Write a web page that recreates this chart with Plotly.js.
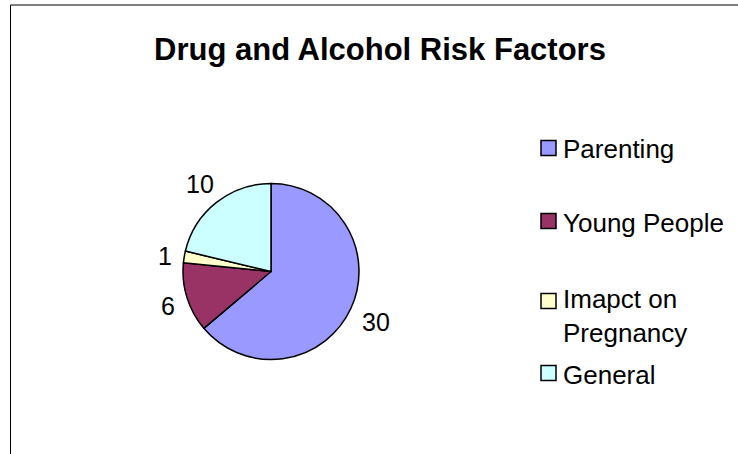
<!DOCTYPE html>
<html>
<head>
<meta charset="utf-8">
<script src="https://cdn.plot.ly/plotly-3.0.1.min.js"></script>
<style>html,body{margin:0;padding:0;background:#fff;}#chart{width:738px;height:454px;}</style>
</head>
<body>
<div id="chart"></div>
<script>
// ---- data ----
const categories = ['Parenting', 'Young People', 'Imapct on Pregnancy', 'General'];
const values = [30, 6, 1, 10];
const colors = ['#9999FF', '#993366', '#FFFFCC', '#CCFFFF'];
const chartTitle = 'Drug and Alcohol Risk Factors';

// ---- layout helpers (pixels -> paper) ----
const W = 738, H = 454;
const px = x => x / W;
const py = y => 1 - y / H;
const font = 'Liberation Sans, Arial, sans-serif';

// pie geometry (style)
const pieL = 183, pieR = 359, pieT = 183, pieB = 360;
const cx = (pieL + pieR) / 2, cy = (pieT + pieB) / 2, rad = (pieR - pieL) / 2;
const labelSize = 25, labelGap = 11;
const legendSize = 26;

function wrap(label) {
  if (label.length <= 14) return [label];
  const i = label.lastIndexOf(' ');
  return [label.slice(0, i), label.slice(i + 1)];
}

const shapes = [];
const annotations = [];

// value labels placed outside each slice, derived from the values
const total = values.reduce((a, b) => a + b, 0);
let acc = 0;
values.forEach(v => {
  const mid = (acc + v / 2) / total * 2 * Math.PI;
  acc += v;
  const dx = Math.sin(mid), dy = -Math.cos(mid);
  const t = String(v);
  const hw = t.length * 0.556 * labelSize / 2, hh = 0.72 * labelSize / 2;
  const d = rad + labelGap + hw * Math.abs(dx) + hh * Math.abs(dy);
  annotations.push({xref: 'paper', yref: 'paper', x: px(cx + d * dx), y: py(cy + d * dy + 2),
    xanchor: 'center', yanchor: 'middle', showarrow: false, text: t,
    font: {family: font, size: labelSize, color: '#000'}});
});

// legend (drawn manually to match original spacing)
const legendSquareY = [148, 221, 301, 373];
categories.forEach((c, i) => {
  const sy = legendSquareY[i];
  shapes.push({type: 'rect', xref: 'paper', yref: 'paper',
    x0: px(541), x1: px(556), y0: py(sy - 7.5), y1: py(sy + 7.5),
    fillcolor: colors[i], line: {color: '#000', width: 1.5}});
  const lines = wrap(c);
  const pitch = legendSize * 1.3;
  const extra = lines.length > 1 ? (lines.length - 1) * pitch / 2 - 3 : 0;
  annotations.push({xref: 'paper', yref: 'paper', x: px(561), y: py(sy + 1.5 + extra),
    xanchor: 'left', yanchor: 'middle', align: 'left', showarrow: false,
    text: lines.join('<br>'), font: {family: font, size: legendSize, color: '#000'}});
});

// frame
shapes.push({type: 'line', xref: 'paper', yref: 'paper', x0: px(10.5), x1: px(10.5), y0: 0, y1: py(5), line: {color: '#000', width: 1}});
shapes.push({type: 'line', xref: 'paper', yref: 'paper', x0: px(10.5), x1: 1, y0: py(5), y1: py(5), line: {color: '#000', width: 1}});

const trace = {
  type: 'pie',
  labels: categories,
  values: values,
  sort: false,
  direction: 'clockwise',
  rotation: 0,
  marker: {colors: colors, line: {color: '#000', width: 1.5}},
  textinfo: 'none',
  hoverinfo: 'label+value',
  domain: {x: [px(pieL), px(pieR)], y: [py(pieB), py(pieT)]},
  showlegend: false,
  automargin: false
};

const layout = {
  width: W, height: H,
  margin: {l: 0, r: 0, t: 0, b: 0},
  paper_bgcolor: '#fff',
  title: {text: '<b>' + chartTitle + '</b>', x: px(380), xanchor: 'center', y: py(49), yanchor: 'middle',
    font: {family: font, size: 31, color: '#000'}},
  shapes: shapes,
  annotations: annotations,
  showlegend: false
};

Plotly.newPlot('chart', [trace], layout, {displayModeBar: false, staticPlot: true});
</script>
</body>
</html>
